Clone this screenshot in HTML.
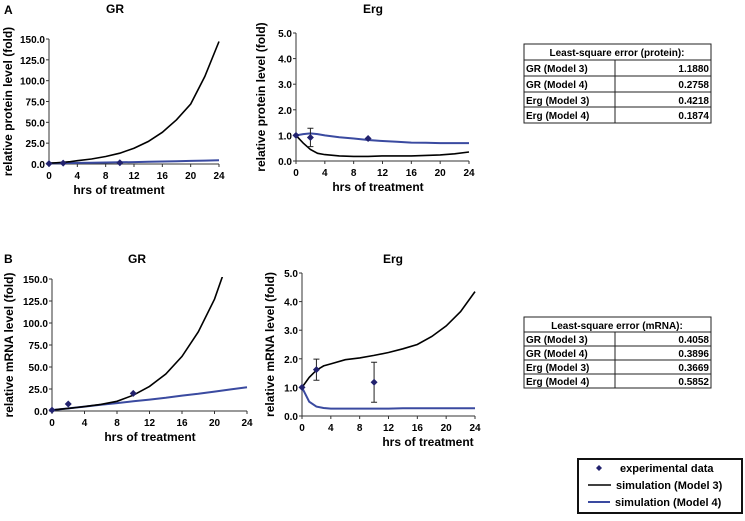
<!DOCTYPE html>
<html><head><meta charset="utf-8">
<style>
body{margin:0;background:#fff;width:745px;height:516px;overflow:hidden}
svg text{font-family:"Liberation Sans",Arial,sans-serif;font-weight:bold}
</style></head>
<body>
<svg id="fig" width="745" height="516" xmlns="http://www.w3.org/2000/svg">
<text x="4" y="14" font-size="12">A</text>
<text x="4" y="263" font-size="12">B</text>
<g id="charts"></g>

<g font-size="11">
<rect x="524" y="44" width="187" height="79" fill="#fff" stroke="#222" stroke-width="1"/>
<line x1="524" y1="60" x2="711" y2="60" stroke="#222"/>
<line x1="524" y1="76" x2="711" y2="76" stroke="#222"/>
<line x1="524" y1="92" x2="711" y2="92" stroke="#222"/>
<line x1="524" y1="107" x2="711" y2="107" stroke="#222"/>
<line x1="615" y1="60" x2="615" y2="123" stroke="#222"/>
<text x="617" y="56" font-size="10" text-anchor="middle">Least-square  error (protein):</text>
<text x="526" y="72" font-size="10">GR (Model 3)</text><text x="709" y="72" font-size="10" text-anchor="end">1.1880</text>
<text x="526" y="88" font-size="10">GR (Model 4)</text><text x="709" y="88" font-size="10" text-anchor="end">0.2758</text>
<text x="526" y="104" font-size="10">Erg (Model 3)</text><text x="709" y="104" font-size="10" text-anchor="end">0.4218</text>
<text x="526" y="119" font-size="10">Erg (Model 4)</text><text x="709" y="119" font-size="10" text-anchor="end">0.1874</text>
</g>
<g>
<rect x="524" y="317" width="187" height="71" fill="#fff" stroke="#222"/>
<line x1="524" y1="332" x2="711" y2="332" stroke="#222"/>
<line x1="524" y1="346" x2="711" y2="346" stroke="#222"/>
<line x1="524" y1="360" x2="711" y2="360" stroke="#222"/>
<line x1="524" y1="374" x2="711" y2="374" stroke="#222"/>
<line x1="615" y1="332" x2="615" y2="388" stroke="#222"/>
<text x="617" y="329" font-size="10" text-anchor="middle">Least-square  error (mRNA):</text>
<text x="526" y="343" font-size="10">GR (Model 3)</text><text x="709" y="343" font-size="10" text-anchor="end">0.4058</text>
<text x="526" y="357" font-size="10">GR (Model 4)</text><text x="709" y="357" font-size="10" text-anchor="end">0.3896</text>
<text x="526" y="371" font-size="10">Erg (Model 3)</text><text x="709" y="371" font-size="10" text-anchor="end">0.3669</text>
<text x="526" y="385" font-size="10">Erg (Model 4)</text><text x="709" y="385" font-size="10" text-anchor="end">0.5852</text>
</g>
<g>
<rect x="578" y="459" width="164" height="54" fill="#fff" stroke="#111" stroke-width="2"/>
<path d="M599,465 l3,3 l-3,3 l-3,-3z" fill="#22226e"/>
<text x="620" y="472" font-size="11">experimental data</text>
<line x1="588" y1="485" x2="611" y2="485" stroke="#000" stroke-width="1.5"/>
<text x="616" y="489" font-size="11">simulation (Model 3)</text>
<line x1="588" y1="502" x2="610" y2="502" stroke="#3a4aa0" stroke-width="2"/>
<text x="615" y="506" font-size="11">simulation (Model 4)</text>
</g>
</svg>
<script>
const hours = [0,1,2,3,4,6,8,10,12,14,16,18,20,22,24];
const grProtM3 = [1,1.5,2,2.8,4,6,9,13,19,27,38,53,72,105,147];
const grProtM4 = [1,1,1.1,1.2,1.3,1.5,1.8,2,2.3,2.6,3,3.3,3.7,4.1,4.5];
const grProtDataX = [0,2,10];
const grProtDataY = [0.5,1,1.5];
const grProtErr = [0,0,0];
const ergProtM3 = [1,0.7,0.45,0.3,0.25,0.2,0.18,0.18,0.2,0.2,0.2,0.22,0.24,0.28,0.35];
const ergProtM4 = [1,1.05,1.08,1.05,1.0,0.93,0.88,0.82,0.78,0.75,0.72,0.71,0.7,0.7,0.7];
const ergProtDataX = [0,2,10];
const ergProtDataY = [1,0.92,0.88];
const ergProtErr = [0,0.36,0];
const grMrnaM3 = [1,2,3,4,5,7.5,11,18,28,42,62,90,127,180,250];
const grMrnaM4 = [1,2,3,4,5,7,9,11,13,15,17.5,19.5,22,24.5,27];
const grMrnaDataX = [0,2,10];
const grMrnaDataY = [1,8,20];
const grMrnaErr = [0,0,0];
const ergMrnaM3 = [1,1.35,1.6,1.75,1.82,1.97,2.03,2.12,2.22,2.35,2.5,2.78,3.15,3.65,4.35];
const ergMrnaM4 = [1,0.5,0.33,0.28,0.26,0.26,0.26,0.26,0.26,0.27,0.27,0.27,0.27,0.27,0.27];
const ergMrnaDataX = [0,2,10];
const ergMrnaDataY = [1,1.62,1.18];
const ergMrnaErr = [0,0.37,0.7];
const xTicks = [0,4,8,12,16,20,24];
const grYTicks = [0,25,50,75,100,125,150];
const ergYTicks = [0,1,2,3,4,5];

const NS='http://www.w3.org/2000/svg';
const root=document.getElementById('charts');
function mk(tag,attrs,parent){const e=document.createElementNS(NS,tag);for(const k in attrs)e.setAttribute(k,attrs[k]);(parent||root).appendChild(e);return e;}

function chart(cfg){
  const g=mk('g',{});
  
  
  const sx=v=>cfg.x0+(v/24)*(cfg.x1-cfg.x0);
  const sy=v=>cfg.y0-(v/cfg.ymax)*(cfg.y0-cfg.y1);
  const clipId=cfg.name+'-clip';
  const cp=mk('clipPath',{id:clipId},g);
  mk('rect',{x:cfg.x0-5,y:cfg.y1-2,width:cfg.x1-cfg.x0+10,height:cfg.y0-cfg.y1+4},cp);
  const ax=mk('path',{d:`M${cfg.x0},${cfg.y1}V${cfg.y0}H${cfg.x1}`,stroke:'#333',fill:'none','stroke-width':1},g);
  
  
  xTicks.forEach(t=>{
    mk('line',{x1:sx(t),x2:sx(t),y1:cfg.y0,y2:cfg.y0+3,stroke:'#333'},g);
    const tx=mk('text',{x:sx(t),y:cfg.y0+15,'font-size':10,'text-anchor':'middle'},g);tx.textContent=t;
    
    
  });
  cfg.yt.forEach(t=>{
    mk('line',{x1:cfg.x0-3,x2:cfg.x0,y1:sy(t),y2:sy(t),stroke:'#333'},g);
    const tx=mk('text',{x:cfg.x0-4,y:sy(t)+4,'font-size':10,'text-anchor':'end'},g);tx.textContent=t.toFixed(1);
    
    
  });
  const tt=mk('text',{x:cfg.tx,y:cfg.ty,'font-size':12,'text-anchor':'middle'},g);tt.textContent=cfg.title;
  
  
  const xl=mk('text',{x:cfg.xlx,y:cfg.y0+30,'font-size':12,'text-anchor':'middle'},g);xl.textContent='hrs of treatment';
  
  
  const yl=mk('text',{x:0,y:0,'font-size':12,'text-anchor':'middle',transform:`translate(${cfg.ylx},${(cfg.y0+cfg.y1)/2}) rotate(-90)`},g);yl.textContent=cfg.ylabel;
  
  
  const line=(arr,col,w,nm)=>{
    const p=mk('path',{d:arr.map((v,i)=>(i?'L':'M')+sx(hours[i]).toFixed(1)+','+sy(v).toFixed(1)).join(''),fill:'none',stroke:col,'stroke-width':w,'clip-path':`url(#${clipId})`},g);
    
    
  };
  line(cfg.m4,'#3a4aa0',2,'line-model-4');
  line(cfg.m3,'#000',1.6,'line-model-3');
  cfg.dx.forEach((x,i)=>{
    const cx=sx(x),cy=sy(cfg.dy[i]),e=cfg.de[i];
    if(e>0){
      mk('path',{d:`M${cx},${sy(cfg.dy[i]-e)}V${sy(cfg.dy[i]+e)}M${cx-3},${sy(cfg.dy[i]-e)}h6M${cx-3},${sy(cfg.dy[i]+e)}h6`,stroke:'#222',fill:'none'},g);
    }
    const m=mk('path',{d:`M${cx},${cy-3.5}l3.5,3.5l-3.5,3.5l-3.5,-3.5z`,fill:'#22226e'},g);
    
    
  });
}
chart({name:'chart-a-gr',x0:49,x1:219,y0:164,y1:39,ymax:150,yt:grYTicks,m3:grProtM3,m4:grProtM4,dx:grProtDataX,dy:grProtDataY,de:grProtErr,title:'GR',tx:115,ty:13,xlx:119,ylx:12,ylabel:'relative protein level (fold)'});
chart({name:'chart-a-erg',x0:296,x1:469,y0:161,y1:33,ymax:5,yt:ergYTicks,m3:ergProtM3,m4:ergProtM4,dx:ergProtDataX,dy:ergProtDataY,de:ergProtErr,title:'Erg',tx:373,ty:13,xlx:378,ylx:265,ylabel:'relative protein level (fold)'});
chart({name:'chart-b-gr',x0:52,x1:247,y0:411,y1:279,ymax:150,yt:grYTicks,m3:grMrnaM3,m4:grMrnaM4,dx:grMrnaDataX,dy:grMrnaDataY,de:grMrnaErr,title:'GR',tx:137,ty:263,xlx:150,ylx:13,ylabel:'relative mRNA level (fold)'});
chart({name:'chart-b-erg',x0:302,x1:475,y0:416,y1:273,ymax:5,yt:ergYTicks,m3:ergMrnaM3,m4:ergMrnaM4,dx:ergMrnaDataX,dy:ergMrnaDataY,de:ergMrnaErr,title:'Erg',tx:393,ty:263,xlx:428,ylx:274,ylabel:'relative mRNA level (fold)'});
</script>
</body></html>
